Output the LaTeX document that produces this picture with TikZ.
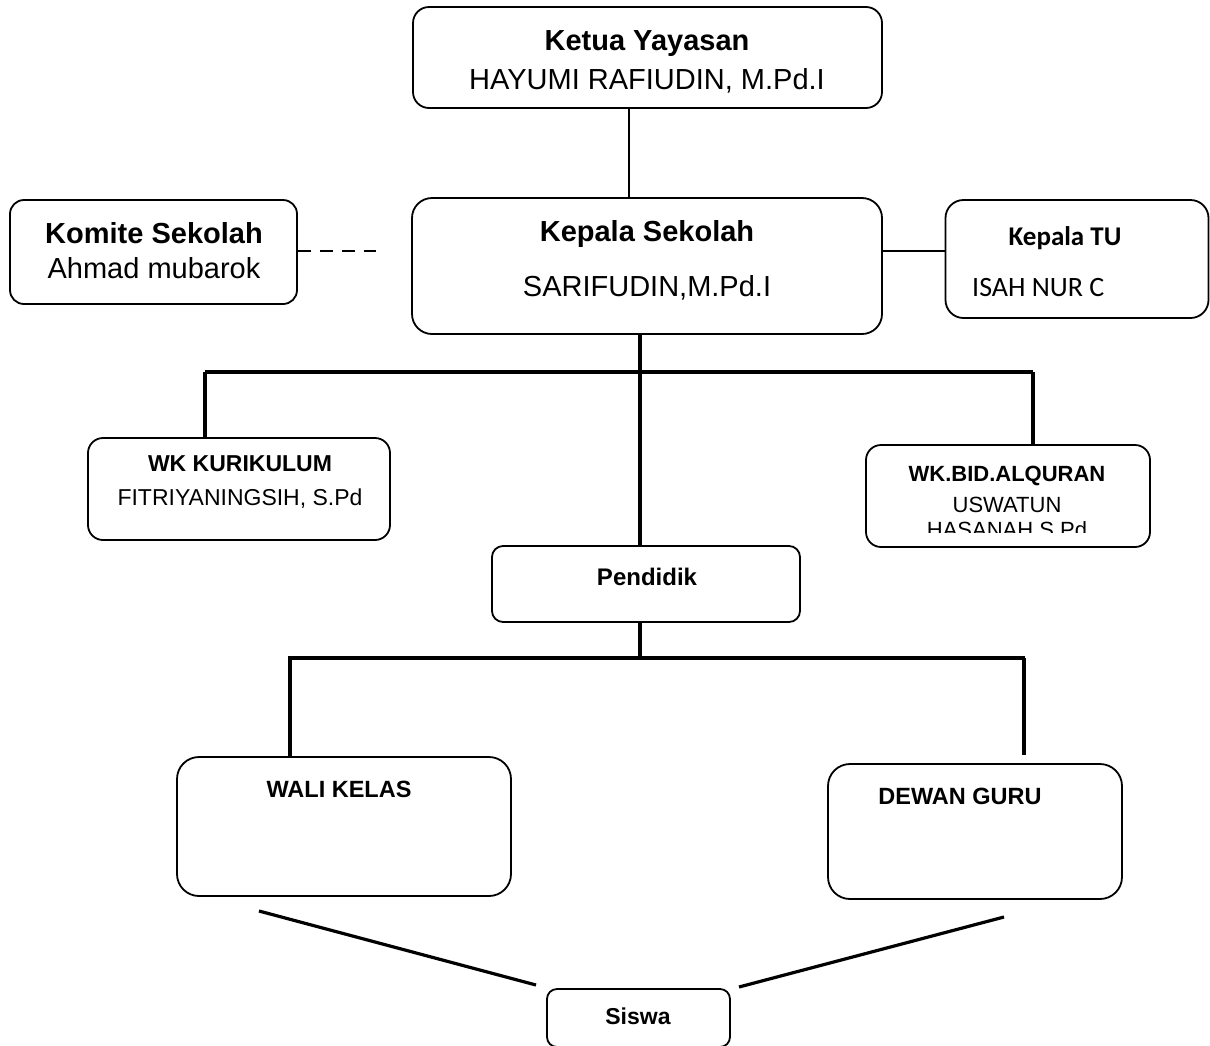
\documentclass[tikz,border=0pt]{standalone}
\usepackage{fontspec}
\setmainfont{Liberation Sans}
\newfontfamily\calibri{Carlito}
\begin{document}
\begin{tikzpicture}[x=1pt,y=-1pt,
  box/.style={draw=black,line width=1.8pt,rounded corners=#1,inner sep=0pt},
  box/.default=15pt,
  thin/.style={line width=1.5pt},
  thick/.style={line width=3.2pt},
  txt/.style={anchor=base,inner sep=0pt},
  big/.style={font=\fontsize{29}{34}\selectfont},
  mid/.style={font=\fontsize{23}{27}\selectfont},
]
\useasboundingbox (0,0) rectangle (1210,1045);
\clip (0,0) rectangle (1210,1045);
\fill[white] (0,0) rectangle (1210,1045);

% boxes
\node[box=16pt,minimum width=469pt,minimum height=101pt] (ketua) at (647.5,57.5) {};
\node[box=20pt,minimum width=470pt,minimum height=136pt] (kepala) at (647,266) {};
\node[box=14pt,minimum width=287pt,minimum height=104pt] (komite) at (153.5,252) {};
\node[box=18pt,minimum width=263pt,minimum height=118pt] (tu) at (1077,259) {};
\node[box=15pt,minimum width=302pt,minimum height=102pt] (wkk) at (239,489) {};
\node[box=15pt,minimum width=284pt,minimum height=102pt] (wkb) at (1008,496) {};
\node[box=11pt,minimum width=308pt,minimum height=76pt] (pend) at (646,584) {};
\node[box=22pt,minimum width=334pt,minimum height=139pt] (wali) at (344,826.5) {};
\node[box=22pt,minimum width=294pt,minimum height=135pt] (dewan) at (975,831.5) {};
\node[box=10pt,minimum width=183pt,minimum height=58pt] (siswa) at (638.5,1018) {};

% texts
\node[txt,font=\fontsize{29}{34}\selectfont\bfseries] (t1) at (647,50) {Ketua Yayasan};
\node[txt,big] (t2) at (647,89) {HAYUMI RAFIUDIN, M.Pd.I};
\node[txt,font=\fontsize{29}{34}\selectfont\bfseries] (t3) at (647,241) {Kepala Sekolah};
\node[txt,big] (t4) at (647,296) {SARIFUDIN,M.Pd.I};
\node[txt,font=\fontsize{29}{34}\selectfont\bfseries] (t5) at (154,243) {Komite Sekolah};
\node[txt,big] (t6) at (154,278) {Ahmad mubarok};
\node[txt,font=\calibri\fontsize{27}{32}\selectfont\bfseries] (t7) at (1065,245) {Kepala TU};
\node[txt,anchor=base west,font=\calibri\fontsize{28}{33}\selectfont] (t8) at (972,296) {ISAH NUR C};
\node[txt,font=\fontsize{23}{27}\selectfont\bfseries] (t9) at (240,471) {WK KURIKULUM};
\node[txt,mid] (t10) at (240,505) {FITRIYANINGSIH, S.Pd};
\node[txt,font=\fontsize{22}{26}\selectfont\bfseries] (t11) at (1007,481) {WK.BID.ALQURAN};
\node[txt,font=\fontsize{22}{26}\selectfont] (t12) at (1007,512) {USWATUN};
\begin{scope}
\clip (860,440) rectangle (1160,532);
\node[txt,font=\fontsize{22}{26}\selectfont] (t13) at (1007,537.5) {HASANAH S.Pd};
\end{scope}
\node[txt,font=\fontsize{24}{28}\selectfont\bfseries] (t14) at (647,585) {Pendidik};
\node[txt,font=\fontsize{23.5}{28}\selectfont\bfseries] (t15) at (339,797) {WALI KELAS};
\node[txt,font=\fontsize{23.5}{28}\selectfont\bfseries] (t16) at (960,804) {DEWAN GURU};
\node[txt,font=\fontsize{23}{27}\selectfont\bfseries] (t17) at (638,1024) {Siswa};

% named coordinates
\coordinate (xk) at (629,0);
\coordinate (xc) at (640,0);
\coordinate (yTU) at (0,251);
\coordinate (dashEnd) at (376,251);
\coordinate (barL) at (205,372);
\coordinate (barR) at (1033,372);
\coordinate (barC) at (640,372);
\coordinate (bar2L) at (288,658);
\coordinate (bar2R) at (1025,658);
\coordinate (bar2C) at (640,658);
\coordinate (dL) at (290,658);
\coordinate (dR) at (1024,658);
\coordinate (dRend) at (1024,755);
\coordinate (s1a) at (259,911);
\coordinate (s1b) at (536,985);
\coordinate (s2a) at (739,987);
\coordinate (s2b) at (1004,917);

% connectors
\draw[thin] (ketua.south -| xk) -- (kepala.north -| xk);
\draw[line width=2.8pt,dash pattern=on 13pt off 9pt] (komite.east |- yTU) -- (dashEnd);
\draw[thin] (kepala.east |- yTU) -- (tu.west |- yTU);
\draw[thick] (kepala.south -| xc) -- (pend.north -| xc);
\draw[thick] (barL) -- (barR);
\draw[thick] (barL) -- (barL |- wkk.north);
\draw[thick] (barR) -- (barR |- wkb.north);
\draw[thick] (pend.south -| xc) -- (bar2C);
\draw[thick] (bar2L) -- (bar2R);
\draw[thick] (dL) -- (dL |- wali.north);
\draw[thick] (dR) -- (dRend);
\draw[thick] (s1a) -- (s1b);
\draw[thick] (s2a) -- (s2b);
\end{tikzpicture}
\end{document}
